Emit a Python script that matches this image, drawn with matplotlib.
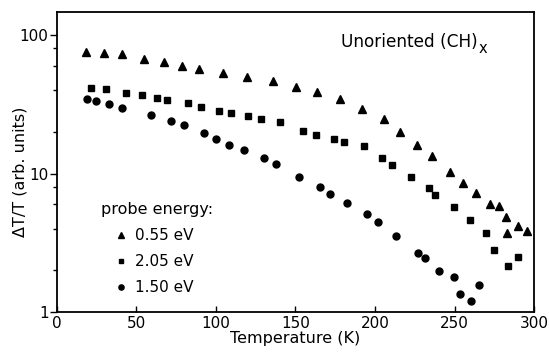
import numpy as np
import matplotlib
matplotlib.use("Agg")
import matplotlib.pyplot as plt
from matplotlib.ticker import LogLocator, NullFormatter

# data (temperature in K, dT/T in arb. units)
temp_055 = [18.1, 29.6, 40.8, 54.8, 67.4, 78.6, 89.5, 104.2, 119.3, 136.1, 150.4,
            163.4, 178.1, 192.0, 205.4, 215.5, 226.4, 235.7, 247.4, 255.4, 263.4,
            272.5, 278.0, 282.1, 282.7, 289.9, 295.7]
sig_055 = [75.8, 73.8, 72.6, 67.1, 63.5, 59.4, 56.5, 53.4, 50.0, 46.5, 42.3,
           39.0, 34.3, 29.2, 24.6, 19.8, 16.1, 13.4, 10.2, 8.58, 7.20,
           6.07, 5.80, 4.87, 3.70, 4.18, 3.85]

temp_205 = [21.2, 30.7, 43.7, 53.6, 62.6, 68.9, 82.5, 90.7, 102.1, 109.5, 119.9,
            128.4, 140.3, 155.0, 162.6, 173.9, 180.2, 192.8, 204.6, 210.6, 222.6,
            234.0, 237.6, 249.8, 259.6, 269.5, 274.7, 283.7, 289.9]
sig_205 = [41.6, 40.5, 38.3, 36.7, 35.1, 34.1, 32.1, 30.4, 28.4, 27.3, 26.0,
           24.8, 23.4, 20.2, 19.1, 17.9, 16.8, 15.7, 13.0, 11.6, 9.48,
           7.82, 7.03, 5.75, 4.59, 3.74, 2.80, 2.15, 2.51]

temp_150 = [18.7, 24.8, 33.0, 41.1, 59.4, 72.0, 80.0, 92.6, 99.7, 108.4, 117.6,
            130.2, 137.8, 152.3, 165.5, 171.8, 182.3, 195.1, 201.8, 213.2, 226.8,
            231.7, 240.5, 249.5, 253.3, 260.4, 265.1]
sig_150 = [34.3, 33.4, 31.8, 29.6, 26.3, 24.1, 22.4, 19.5, 17.8, 16.2, 14.8,
           13.0, 11.8, 9.44, 7.95, 7.08, 6.12, 5.10, 4.44, 3.54, 2.65,
           2.47, 1.97, 1.80, 1.36, 1.20, 1.57]

xticks = [0, 50, 100, 150, 200, 250, 300]
yticks = [1, 10, 100]
ytick_labels = ["1", "10", "100"]

plt.rcParams['font.family'] = ['DejaVu Sans']

fig = plt.figure(figsize=(5.49, 3.53), dpi=100)
ax = fig.add_axes([0.1038, 0.1161, 0.8689, 0.8499])

ax.plot(temp_055, sig_055, '^', color='black', ms=6, label='0.55 eV')
ax.plot(temp_205, sig_205, 's', color='black', ms=4.8, label='2.05 eV')
ax.plot(temp_150, sig_150, 'o', color='black', ms=5, label='1.50 eV')

ax.set_yscale('log')
ax.set_xlim(0, 300)
ax.set_ylim(1, 146.7)

ax.set_xticks(xticks)
ax.set_yticks(yticks)
ax.set_yticklabels(ytick_labels)
ax.yaxis.set_minor_locator(LogLocator(base=10, subs=(2, 4, 6, 8)))
ax.yaxis.set_minor_formatter(NullFormatter())

ax.tick_params(axis='x', direction='in', length=4, width=1, labelsize=11, pad=3)
ax.tick_params(axis='y', which='major', direction='out', length=5, width=1, labelsize=11, pad=1)
ax.tick_params(axis='y', which='minor', direction='out', length=3, width=1)
for sp in ax.spines.values():
    sp.set_linewidth(1.3)

ax.set_xlabel("Temperature (K)", fontsize=11.5, labelpad=0)
ax.set_ylabel("ΔT/T (arb. units)", fontsize=11.5)
ax.yaxis.set_label_coords(-0.062, 0.467)

# title with a full-size, lowered subscript x
t = ax.text(0.595, 0.9, "Unoriented (CH)", transform=ax.transAxes,
            fontsize=12.2, ha='left', va='center')
fig.canvas.draw()
bb = t.get_window_extent()
ax.annotate("x", xy=(bb.x1, bb.y0), xycoords='figure pixels',
            xytext=(0.5, 1.5), textcoords='offset points',
            fontsize=10.5, ha='left', va='center')

leg = ax.legend(title="probe energy:", loc='lower left', bbox_to_anchor=(0.07, 0.02),
                frameon=False, fontsize=11, title_fontsize=11.5, alignment='left',
                handlelength=2.6, handletextpad=-0.35, labelspacing=0.72,
                markerscale=0.75, borderpad=0.2)

fig.savefig("out.png", dpi=100)
